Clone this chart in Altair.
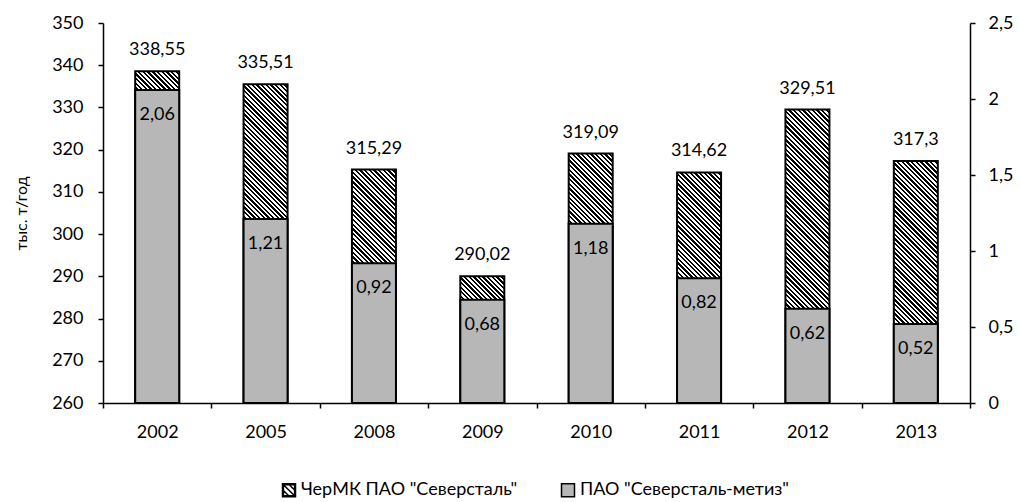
import altair as alt

# ---- data -------------------------------------------------------------
YEARS = ["2002", "2005", "2008", "2009", "2010", "2011", "2012", "2013"]
CHERMK = [338.55, 335.51, 315.29, 290.02, 319.09, 314.62, 329.51, 317.3]  # тыс. т/год, left axis
METIZ = [2.06, 1.21, 0.92, 0.68, 1.18, 0.82, 0.62, 0.52]                  # right axis
SERIES = ['ЧерМК ПАО "Северсталь"', 'ПАО "Северсталь-метиз"']

LEFT_DOMAIN = [260, 350]
LEFT_TICKS = [260, 270, 280, 290, 300, 310, 320, 330, 340, 350]
RIGHT_DOMAIN = [0, 2.5]
RIGHT_TICKS = [0, 0.5, 1, 1.5, 2, 2.5]
Y_TITLE = "тыс. т/год"

# ---- style ------------------------------------------------------------
PLOT_W, PLOT_H = 867, 380
BAR_W = 44
STRIPE_PERIOD = 3.3          # px, measured across the hatch stripes
INK = "#000000"
PAPER = "#ffffff"
GREY = "#b7b7b7"
FONT = "Lato"
FS = 18


def hatch_fill(value):
    """Hard-stop linear gradient giving 45° '\\' stripes over a bar of this value."""
    h = (value - LEFT_DOMAIN[0]) / (LEFT_DOMAIN[1] - LEFT_DOMAIN[0]) * PLOT_H
    w = BAR_W
    # gradient vector (bounding-box units) normal to the stripes,
    # running from the bottom-left corner to the top-right corner
    dx, dy = 1.0 / h, -1.0 / w
    k = (1.0 / h + 1.0 / w) / (dx * dx + dy * dy)
    n = max(1, round((w + h) / 2 ** 0.5 / STRIPE_PERIOD))
    stops = []
    for i in range(n):
        a, m, b = i / n, (i + 0.5) / n, (i + 1) / n
        stops += [
            {"offset": a, "color": INK},
            {"offset": m, "color": INK},
            {"offset": m, "color": PAPER},
            {"offset": b, "color": PAPER},
        ]
    return {"gradient": "linear", "x1": 0, "y1": 1,
            "x2": k * dx, "y2": 1 + k * dy, "stops": stops}


def hatch_symbol():
    """Square outline with diagonal strokes, as a custom legend symbol path."""
    r = 0.86
    parts = ["M-1,-1H1V1H-1Z", f"M-{r},-{r}V{r}H{r}V-{r}Z"]
    for c in (-0.9, 0.0, 0.9):
        x0 = max(-r, -r - c)
        x1 = min(r, r - c)
        parts.append(f"M{x0:.3f},{x0 + c:.3f}L{x1:.3f},{x1 + c:.3f}")
    return "".join(parts)


rows = [
    {"year": y, "total": t, "metiz": m, "hatch": hatch_fill(t)}
    for y, t, m in zip(YEARS, CHERMK, METIZ)
]
base = alt.Chart(alt.Data(values=rows))

x_enc = alt.X(
    "year:O", sort=YEARS, title=None,
    scale=alt.Scale(paddingInner=0, paddingOuter=0),
    axis=alt.Axis(labelAngle=0, tickBand="extent", labelPadding=15),
)
y_left = alt.Y(
    "total:Q",
    scale=alt.Scale(domain=LEFT_DOMAIN, nice=False, zero=False),
    axis=alt.Axis(values=LEFT_TICKS, title=Y_TITLE, labelPadding=15, titlePadding=22),
)
y_right = alt.Y(
    "metiz:Q",
    scale=alt.Scale(domain=RIGHT_DOMAIN, nice=False),
    axis=alt.Axis(
        orient="right", values=RIGHT_TICKS, title=None, labelPadding=13,
        labelExpr="replace(format(datum.value, '~g'), '.', ',')",
    ),
)

hatched = base.mark_bar(size=BAR_W, stroke=INK, strokeWidth=2).encode(
    x=x_enc, y=y_left, y2=alt.datum(LEFT_DOMAIN[0]),
    fill=alt.Fill("hatch:N", scale=None),
)
total_labels = base.mark_text(
    baseline="alphabetic", dy=-16, font=FONT, fontSize=FS, color=INK
).transform_calculate(
    lbl="replace(format(datum.total, '.2~f'), '.', ',')"
).encode(x=x_enc, y=y_left, text="lbl:N")

legend = alt.Legend(
    title=None, orient="none", direction="horizontal", legendX=177, legendY=458,
    labelFont=FONT, labelFontSize=FS, labelColor=INK, labelLimit=400,
    symbolSize=169, symbolStrokeWidth=1.5, symbolOpacity=1,
    columnPadding=40, labelOffset=3, padding=0,
)
legend_keys = alt.Chart(alt.Data(values=[{"series": s} for s in SERIES])).mark_point(
    filled=True, opacity=0, strokeWidth=1.5
).encode(
    color=alt.Color("series:N", scale=alt.Scale(domain=SERIES, range=[INK, GREY]), legend=legend),
    stroke=alt.Stroke("series:N", scale=alt.Scale(domain=SERIES, range=[INK, INK]), legend=legend),
    shape=alt.Shape("series:N", scale=alt.Scale(domain=SERIES, range=[hatch_symbol(), "square"]), legend=legend),
)

grey = base.mark_bar(size=BAR_W, color=GREY, stroke=INK, strokeWidth=2).encode(
    x=x_enc, y=y_right
)
metiz_labels = base.mark_text(
    baseline="middle", dy=25, font=FONT, fontSize=FS, color=INK
).transform_calculate(
    lbl="replace(format(datum.metiz, '.2~f'), '.', ',')"
).encode(x=x_enc, y=y_right, text="lbl:N")

chart = alt.layer(
    alt.layer(hatched, total_labels, legend_keys),
    alt.layer(grey, metiz_labels),
).resolve_scale(
    y="independent"
).properties(
    width=PLOT_W, height=PLOT_H,
    padding={"left": 103, "top": 23, "right": 49, "bottom": 99},
    autosize=alt.AutoSizeParams(type="none"),
    background="white",
).configure_view(
    stroke=None
).configure_axis(
    grid=False, domainColor=INK, domainWidth=1.5, tickColor=INK, tickWidth=1.5,
    tickSize=5, labelFont=FONT, labelFontSize=FS, labelColor=INK,
    titleFont=FONT, titleFontSize=16, titleColor=INK, titleFontWeight="normal",
)

chart.save("out.html", embed_options={"renderer": "svg", "actions": False})
